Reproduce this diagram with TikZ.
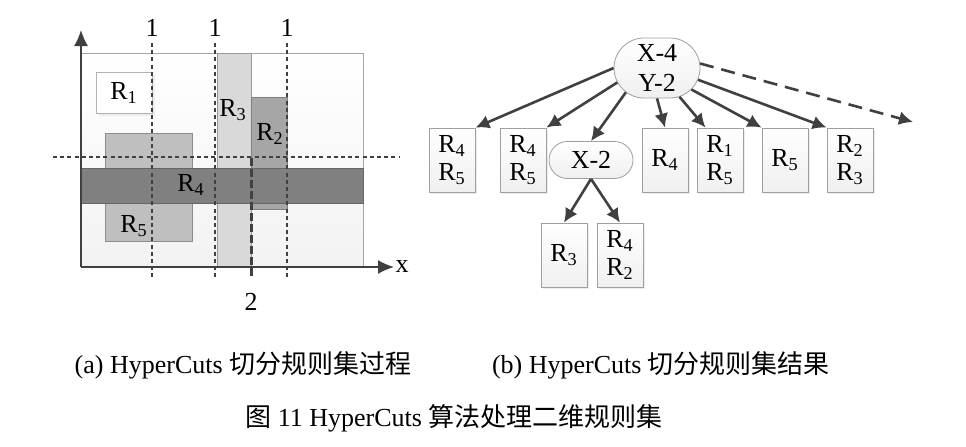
\documentclass[tikz,border=0pt]{standalone}
\usepackage{fontspec}
\setmainfont{Liberation Serif}
\newfontfamily\cjk{Noto Sans CJK SC}
\usetikzlibrary{arrows.meta,shapes.misc,shadows}
\definecolor{arrowgray}{RGB}{64,64,64}
\definecolor{rfour}{RGB}{128,128,128}
\definecolor{rtwo}{RGB}{166,166,166}
\definecolor{rfive}{RGB}{191,191,191}
\definecolor{rthree}{RGB}{217,217,217}
\newcommand{\rr}[1]{R\textsubscript{#1}}

\begin{document}
\begin{tikzpicture}[x=0.5pt,y=-0.5pt,font=\fontsize{13}{14}\selectfont,
  leaf/.style={draw=gray!75,line width=0.4pt,top color=white,bottom color=gray!12,
    minimum width=23pt,minimum height=32pt,inner sep=0pt,align=center,
    drop shadow={shadow xshift=1.2pt,shadow yshift=-1.2pt,fill=gray!30}},
  cut/.style={rounded rectangle,draw=gray!75,line width=0.4pt,top color=white,
    bottom color=gray!12,inner sep=0pt,align=center},
  arr/.style={arrowgray,line width=1.3pt,->,>={Latex[length=7pt,width=7pt]}},
  cutline/.style={arrowgray,line width=1pt,dash pattern=on 2pt off 1.6pt},
  region/.style={line width=0.4pt}]
\useasboundingbox (0,0) rectangle (966,446);
% left: the rule space
\draw [region,draw=gray!70,top color=white,bottom color=gray!10] (81,53) rectangle (363,267);
\draw [region,draw=gray!60,fill=white,drop shadow={shadow xshift=1.5pt,shadow yshift=-1.5pt,fill=gray!25}] (96,72) rectangle (152,113);
\draw [region,draw=gray!90,fill=rfive] (105,133) rectangle (192,241);
\draw [region,draw=gray!80,fill=rthree] (217,53) rectangle (251,267);
\draw [region,draw=gray!100,fill=rtwo] (251,97) rectangle (287,209);
\draw [region,draw=black!60,fill=rfour] (81,168) rectangle (363,203);
\foreach \xc in {152,215,287} {
  \draw [cutline] (\xc,43) -- (\xc,278);
  \node (cut\xc) at (\xc,28) {1};
}
\draw [cutline] (53,157) -- (400,157);
\draw [arrowgray,line width=1.5pt,dash pattern=on 4pt off 1.5pt] (251,158) -- (251,278);
\node (cuttwo) at (251,302) {2};
\draw [arrowgray,line width=0.8pt,->,>={Latex[length=8pt,width=7pt]}] (81,267) -- (81,30);
\draw [arrowgray,line width=0.8pt,->,>={Latex[length=8pt,width=7pt]}] (81,267) -- (394,267);
\node (xlab) at (402,267) {x};
\node (lr1) at (124,93) {\rr1};
\node (lr3) at (233,110) {\rr3};
\node (lr2) at (270,134) {\rr2};
\node (lr4) at (191,185) {\rr4};
\node (lr5) at (134,226) {\rr5};
% right: the decision tree
\node [cut,minimum width=43pt,minimum height=30pt,font=\fontsize{13}{15}\selectfont] (root) at (657,68) {X-4\\Y-2};
\node [leaf] (b1) at (452,160) {\rr4\\\rr5};
\node [leaf] (b2) at (523,160) {\rr4\\\rr5};
\node [cut,minimum width=42pt,minimum height=18.5pt] (x2) at (591,160) {X-2};
\node [leaf] (b3) at (665,160) {\rr4};
\node [leaf] (b4) at (720,160) {\rr1\\\rr5};
\node [leaf] (b5) at (785,160) {\rr5};
\node [leaf] (b6) at (850,160) {\rr2\\\rr3};
\node [leaf] (c1) at (564,255) {\rr3};
\node [leaf] (c2) at (620,255) {\rr4\\\rr2};
\coordinate (more) at (913,122);
\draw [arr] (root.180) -- (b1.north east);
\draw [arr] (root.200) -- (b2.north east);
\draw [arr] (root.218) -- (x2.north);
\draw [arr] (root.south) -- (b3.north);
\draw [arr] (root.-52) -- (b4.114);
\draw [arr] (root.-32) -- (b5.north west);
\draw [arr] (root.-16) -- (b6.north west);
\draw [arr,dash pattern=on 7pt off 4pt] (root.6) -- (more);
\draw [arr] (x2.south) -- (c1.north);
\draw [arr] (x2.south) -- (c2.north);
% captions
\node (capa) at (243,365) {(a) HyperCuts {\cjk 切分规则集过程}};
\node (capb) at (661,365) {(b) HyperCuts {\cjk 切分规则集结果}};
\node (capfig) at (454,418) {{\cjk 图} 11 HyperCuts {\cjk 算法处理二维规则集}};
\end{tikzpicture}
\end{document}
